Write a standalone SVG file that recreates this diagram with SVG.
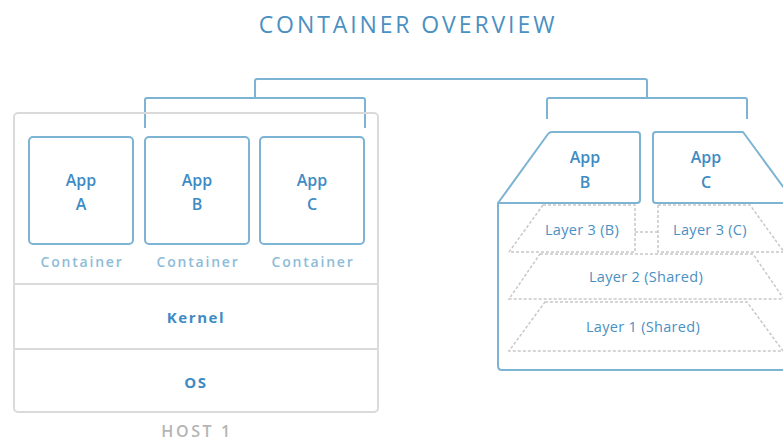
<svg xmlns="http://www.w3.org/2000/svg" width="783" height="441" viewBox="0 0 783 441">
<style>
.title{font-family:"Open Sans","Liberation Sans",sans-serif;font-size:23px;fill:#4a90c2;letter-spacing:2.9px;text-anchor:middle}
.app{font-family:"Open Sans","Liberation Sans",sans-serif;font-size:16px;font-weight:600;fill:#3f8bc4;text-anchor:middle}
.cont{font-family:"Open Sans","Liberation Sans",sans-serif;font-size:14px;font-weight:600;fill:#8dbcd8;letter-spacing:1.8px;text-anchor:middle}
.sys{font-family:"Open Sans","Liberation Sans",sans-serif;font-size:15px;font-weight:700;fill:#3f8bc4;letter-spacing:1.6px;text-anchor:middle}
.host{font-family:"Open Sans","Liberation Sans",sans-serif;font-size:16px;font-weight:600;fill:#b5b5b5;letter-spacing:2.6px;text-anchor:middle}
.layer{font-family:"Open Sans","Liberation Sans",sans-serif;font-size:14.5px;fill:#4a90c2;letter-spacing:0.3px;text-anchor:middle}
.box{fill:none;stroke:#7db3d3;stroke-width:2;stroke-linejoin:round}
.hostbox{fill:none;stroke:#dadada;stroke-width:2}
.dash{fill:none;stroke:#c8c8c8;stroke-width:1.5;stroke-dasharray:3 2}
.conn{fill:none;stroke:#7db3d3;stroke-width:2;stroke-linejoin:round}
</style>
<text class="title" x="408" y="33">CONTAINER OVERVIEW</text>
<g id="connectors">
<path class="conn" d="M255,98 V81 Q255,79 257,79 H645 Q647,79 647,81 V98"/>
<path class="conn" d="M145,128 V100 Q145,98 147,98 H363 Q365,98 365,100 V128"/>
<path class="conn" d="M547,119 V100 Q547,98 549,98 H745 Q747,98 747,100 V119"/>
</g>
<g id="host1">
<rect class="hostbox" x="14" y="113" width="364" height="299" rx="4"/>
<line class="hostbox" x1="14" y1="284" x2="378" y2="284"/>
<line class="hostbox" x1="14" y1="349" x2="378" y2="349"/>
<text class="host" x="197" y="437">HOST 1</text>
</g>
<g id="appA">
<rect class="box" x="29" y="137" width="104" height="107" rx="4"/>
<text class="app" x="81" y="186">App</text>
<text class="app" x="81" y="210">A</text>
<text class="cont" x="82" y="267">Container</text>
</g>
<g id="appB">
<rect class="box" x="145" y="137" width="104" height="107" rx="4"/>
<text class="app" x="197" y="186">App</text>
<text class="app" x="197" y="210">B</text>
<text class="cont" x="198" y="267">Container</text>
</g>
<g id="appC">
<rect class="box" x="260" y="137" width="104" height="107" rx="4"/>
<text class="app" x="312" y="186">App</text>
<text class="app" x="312" y="210">C</text>
<text class="cont" x="313" y="267">Container</text>
</g>
<g id="kernel">
<text class="sys" x="196" y="323">Kernel</text>
</g>
<g id="os">
<text class="sys" x="196" y="388">OS</text>
</g>
<g id="image-box">
<path class="box" d="M498,203 V366 Q498,370 502,370 H795"/>
</g>
<g id="appB2">
<path class="box" d="M498,203 L548,134 Q549.5,132 552,132 H637 Q640,132 640,135 V200 Q640,203 637,203 Z"/>
<text class="app" x="585" y="163">App</text>
<text class="app" x="585" y="188">B</text>
</g>
<g id="appC2">
<path class="box" d="M795,203 H656 Q653,203 653,200 V135 Q653,132 656,132 H743 L795,203"/>
<text class="app" x="706" y="163">App</text>
<text class="app" x="706" y="188">C</text>
</g>
<g id="layer3b">
<path class="dash" d="M543,205 H635 V252 H509 Z"/>
<text class="layer" x="582" y="235">Layer 3 (B)</text>
</g>
<g id="layer3c">
<path class="dash" d="M658,205 H750 L784,252 H658 Z"/>
<text class="layer" x="710" y="235">Layer 3 (C)</text>
</g>
<g id="connectors-layers">
<path class="dash" d="M635,232 H658"/>
</g>
<g id="layer2">
<path class="dash" d="M540,254 H753 L784,299 H509 Z"/>
<text class="layer" x="646" y="282">Layer 2 (Shared)</text>
</g>
<g id="layer1">
<path class="dash" d="M545,302 H747 L783,351 H509 Z"/>
<text class="layer" x="643" y="332">Layer 1 (Shared)</text>
</g>
</svg>
